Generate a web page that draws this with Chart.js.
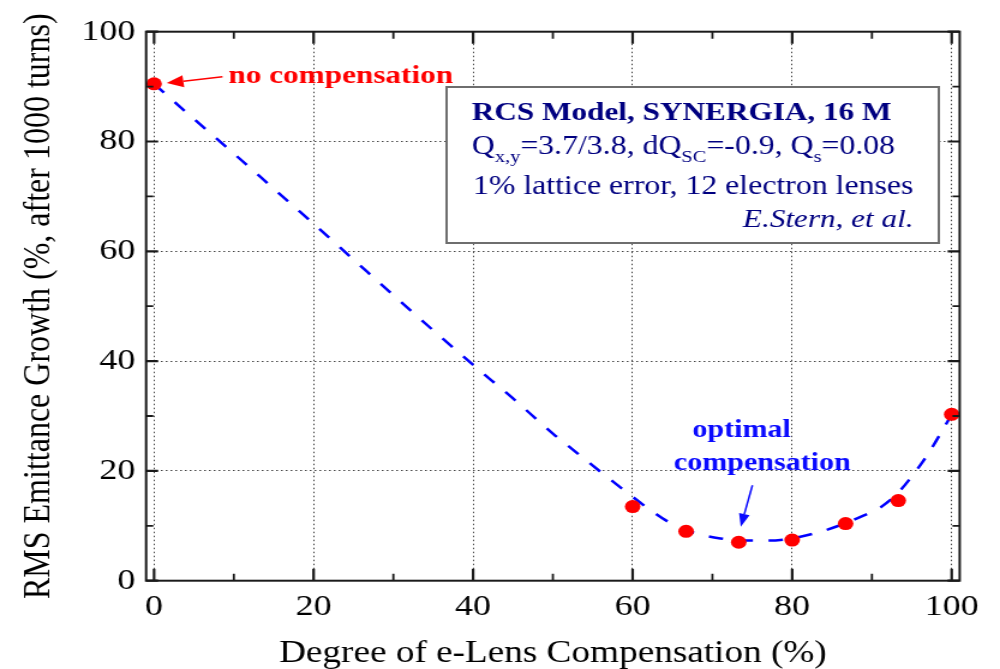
<!DOCTYPE html>
<html>
<head>
<meta charset="utf-8">
<script src="https://cdn.jsdelivr.net/npm/chart.js@4/dist/chart.umd.min.js"></script>
<style>
body { margin: 0; background: #fff; }
</style>
</head>
<body>
<!-- the original figure is stretched sideways, so the canvas is drawn narrow and widened by css -->
<canvas id="plot" width="833" height="669" style="width:1000px;height:669px"></canvas>
<script>
// simulation results (red dots)
var compX = [0, 60, 66.7, 73.3, 80, 86.7, 93.3, 100]
var growthY = [90.5, 13.5, 9.0, 7.0, 7.4, 10.4, 14.6, 30.3]

// dashed fit curve
var fitX = [0, 5, 10, 15, 20, 25, 30, 35, 40, 45, 50, 53, 56, 59, 62, 65, 68, 71, 74, 77, 80, 83, 86, 89, 91, 93, 95, 97, 99, 100]
var fitY = [90.5, 84.1, 77.8, 71.4, 65.0, 58.5, 52.0, 45.6, 39.3, 33.2, 26.8, 23.3, 19.8, 16.4, 13.1, 10.3, 8.6, 7.7, 7.3, 7.3, 7.7, 8.7, 10.1, 11.9, 13.3, 15.6, 19.0, 23.0, 27.8, 30.3]

var xTicks = [0, 20, 40, 60, 80, 100]
var xMinor = [10, 30, 50, 70, 90]
var yTicks = [0, 20, 40, 60, 80, 100]
var yMinor = [10, 30, 50, 70, 90]

var serif = '"Liberation Serif", "Times New Roman", serif'
var navy = '#000080'

function toPoints(xs, ys) {
    return xs.map(function (x, i) { return { x: x, y: ys[i] } })
}

function arrow(c, x0, y0, x1, y1, color, head, half) {
    var a = Math.atan2(y1 - y0, x1 - x0)
    var cs = Math.cos(a), sn = Math.sin(a)
    c.strokeStyle = color
    c.fillStyle = color
    c.lineWidth = 1.5
    c.beginPath()
    c.moveTo(x0, y0)
    c.lineTo(x1 - cs * head, y1 - sn * head)
    c.stroke()
    c.beginPath()
    c.moveTo(x1, y1)
    c.lineTo(x1 - cs * head - sn * half, y1 - sn * head + cs * half)
    c.lineTo(x1 - cs * head + sn * half, y1 - sn * head - cs * half)
    c.closePath()
    c.fill()
}

// text with subscripts: parts alternate normal / subscript
function subText(c, parts, x, y, size) {
    for (var i = 0; i < parts.length; i++) {
        var sub = i % 2 === 1
        c.font = (sub ? Math.round(size * 0.65) : size) + 'px ' + serif
        c.fillText(parts[i], x, sub ? y + 8 : y)
        x += c.measureText(parts[i]).width
    }
}

var decor = {
    id: 'decor',
    afterDraw: function (chart) {
        var c = chart.ctx, a = chart.chartArea
        var xs = chart.scales.x, ys = chart.scales.y
        c.save()

        // frame
        c.strokeStyle = '#1a1a1a'
        c.lineWidth = 2
        c.strokeRect(a.left, a.top, a.right - a.left, a.bottom - a.top)

        // inward ticks on all four sides
        function xTick(v, len, w) {
            var px = xs.getPixelForValue(v)
            c.lineWidth = w
            c.beginPath()
            c.moveTo(px, a.bottom); c.lineTo(px, a.bottom - len)
            c.moveTo(px, a.top); c.lineTo(px, a.top + len)
            c.stroke()
        }
        function yTick(v, len, w) {
            var py = ys.getPixelForValue(v)
            c.lineWidth = w
            c.beginPath()
            c.moveTo(a.left, py); c.lineTo(a.left + len, py)
            c.moveTo(a.right, py); c.lineTo(a.right - len, py)
            c.stroke()
        }
        xTicks.forEach(function (v) { xTick(v, 12, 2.2) })
        xMinor.forEach(function (v) { xTick(v, 7, 1.8) })
        yTicks.forEach(function (v) { yTick(v, 10, 2.2) })
        yMinor.forEach(function (v) { yTick(v, 6, 1.8) })

        // "no compensation" label and arrow
        var p0x = xs.getPixelForValue(compX[0]), p0y = ys.getPixelForValue(growthY[0])
        arrow(c, p0x + 57, p0y - 7, p0x + 10.5, p0y - 0.8, '#ff0000', 14, 6)
        c.fillStyle = '#ff0000'
        c.font = 'bold 26px ' + serif
        c.textBaseline = 'alphabetic'
        c.fillText('no compensation', p0x + 62, p0y - 1)

        // "optimal compensation" label and arrow
        var p3x = xs.getPixelForValue(compX[3]), p3y = ys.getPixelForValue(growthY[3])
        arrow(c, p3x + 11.4, p3y - 57, p3x + 1.7, p3y - 15.5, '#0a0aff', 13, 4.5)
        c.fillStyle = '#0a0aff'
        c.font = 'bold 25px ' + serif
        c.fillText('optimal', p3x - 38.5, p3y - 105.5)
        c.fillText('compensation', p3x - 54, p3y - 72.3)

        // info box
        c.fillStyle = '#ffffff'
        c.fillRect(372, 87, 410, 156)
        c.strokeStyle = '#6e6e6e'
        c.lineWidth = 2
        c.strokeRect(372, 87, 410, 156)
        c.fillStyle = navy
        c.font = 'bold 26px ' + serif
        c.fillText('RCS Model, SYNERGIA, 16 M', 393, 119.5)
        subText(c, ['Q', 'x,y', '=3.7/3.8, dQ', 'SC', '=-0.9, Q', 's', '=0.08'], 393, 154, 26.5)
        c.font = '26.5px ' + serif
        c.fillText('1% lattice error, 12 electron lenses', 394, 193.5)
        c.font = 'italic 26px ' + serif
        c.textAlign = 'right'
        c.fillText('E.Stern, et al.', 761, 227)
        c.restore()
    }
}

var ctx = document.getElementById('plot').getContext('2d')

var myChart = new Chart(ctx, {
    type: 'scatter',
    data: {
        datasets: [{
            label: 'simulation',
            data: toPoints(compX, growthY),
            backgroundColor: '#ff0000',
            borderColor: '#ff0000',
            borderWidth: 0,
            pointRadius: 6.5,
            showLine: false
        }, {
            label: 'fit',
            data: toPoints(fitX, fitY),
            showLine: true,
            borderColor: '#0000ff',
            borderWidth: 2.5,
            borderDash: [12, 13],
            pointRadius: 0,
            tension: 0.3,
            cubicInterpolationMode: 'monotone',
            fill: false
        }]
    },
    options: {
        responsive: false,
        animation: false,
        devicePixelRatio: 1,
        layout: { padding: { top: 31.7, right: 33.6, left: 0, bottom: 0 } },
        plugins: {
            legend: { display: false },
            tooltip: { enabled: false }
        },
        scales: {
            x: {
                type: 'linear',
                min: -1,
                max: 101,
                afterBuildTicks: function (s) { s.ticks = xTicks.map(function (v) { return { value: v } }) },
                afterFit: function (s) { s.height = 88.3 },
                border: { display: false, dash: [1.5, 2.5] },
                grid: { color: '#444444', lineWidth: 1, drawTicks: false },
                ticks: {
                    color: '#000',
                    padding: 8,
                    maxRotation: 0,
                    autoSkip: false,
                    font: { family: serif, size: 30 },
                    callback: function (v) { return v }
                },
                title: {
                    display: true,
                    text: 'Degree of e-Lens Compensation (%)',
                    color: '#000',
                    font: { family: serif, size: 31, lineHeight: 1 },
                    padding: { top: 0, bottom: 0 }
                }
            },
            y: {
                type: 'linear',
                min: 0,
                max: 100,
                afterBuildTicks: function (s) { s.ticks = yTicks.map(function (v) { return { value: v } }) },
                afterFit: function (s) { s.width = 121.7 },
                border: { display: false, dash: [1.5, 2.5] },
                grid: { color: '#444444', lineWidth: 1, drawTicks: false },
                ticks: {
                    color: '#000',
                    padding: 9,
                    font: { family: serif, size: 30 },
                    callback: function (v) { return v }
                },
                title: {
                    display: true,
                    text: 'RMS Emittance Growth (%, after 1000 turns)',
                    color: '#000',
                    font: { family: serif, size: 32 },
                    padding: { top: 13, bottom: 0 }
                }
            }
        }
    },
    plugins: [decor]
})
</script>
</body>
</html>
